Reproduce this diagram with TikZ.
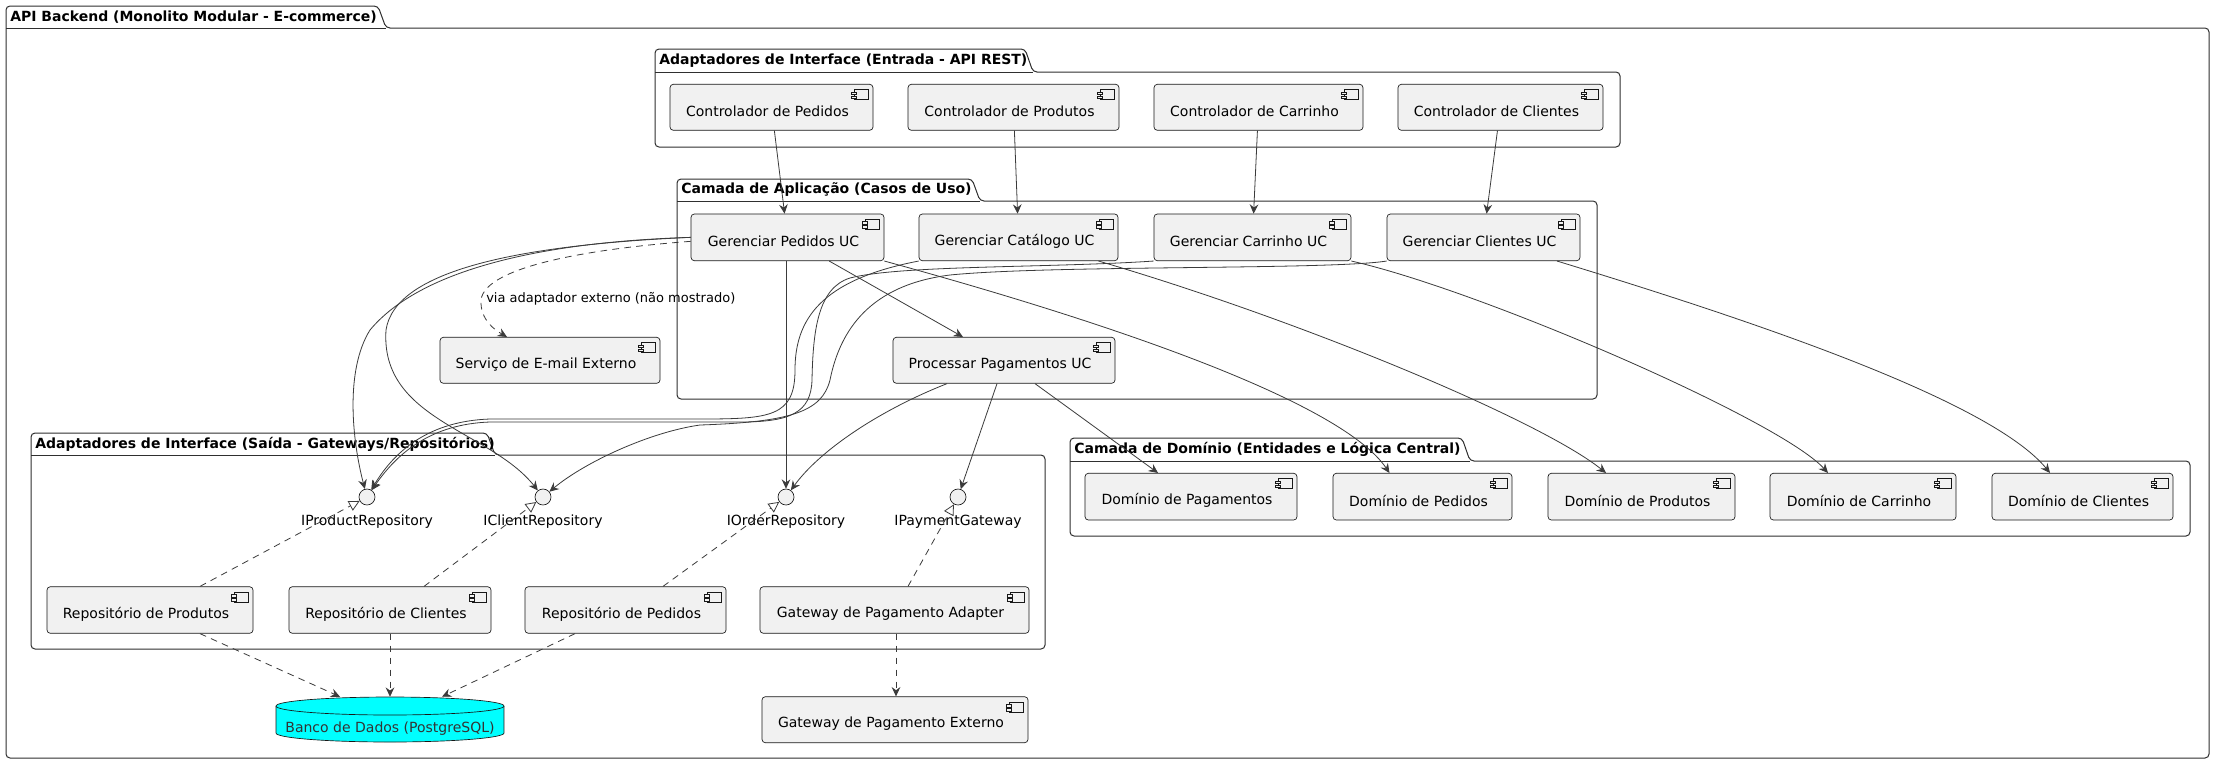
\documentclass[tikz,border=0pt]{standalone}
\usepackage{fontspec}
\setmainfont{DejaVu Sans}
\usetikzlibrary{arrows.meta,calc}

\definecolor{boxfill}{HTML}{F1F1F1}
\definecolor{ink}{HTML}{181818}
\definecolor{dbcyan}{HTML}{00FFFF}

\tikzset{
  compbox/.style={draw=ink, fill=boxfill, line width=0.5pt, rounded corners=2.5pt, inner sep=0pt},
  pkgline/.style={draw=ink!90, line width=0.75pt},
  dep/.style={draw=ink!85, line width=0.6pt, -{Stealth[length=7pt,width=6.5pt,inset=2.4pt]}},
  depdash/.style={dep, dash pattern=on 5pt off 4pt},
  realize/.style={draw=ink!85, line width=0.6pt, dash pattern=on 5pt off 4pt, -{Triangle[open,length=8pt,width=8pt]}},
  iface/.style={circle, draw=ink, fill=boxfill, line width=0.5pt, minimum size=12pt, inner sep=0pt},
  lbl/.style={font=\fontsize{10.5pt}{12.6pt}\selectfont, text=black, inner sep=0pt},
  pkgtitle/.style={font=\fontsize{10.5pt}{12.6pt}\selectfont\bfseries, anchor=west, inner sep=0pt},
  edgelbl/.style={font=\fontsize{9.75pt}{11.7pt}\selectfont, anchor=west, inner sep=0pt},
}

% component: name, x1, y1, x2, y2, text
\newcommand\comp[6]{%
  \node[compbox, minimum width={(#4-#2)*0.75pt}, minimum height={(#5-#3)*0.75pt}] (#1) at ({(#2+#4)/2},{(#3+#5)/2}) {};
  \node[lbl] (#1-t) at ($(#1.center)+(-4,4)$) {#6};
  \draw[ink, line width=0.4pt, fill=boxfill] ($(#1.north east)+(-19.5,5.5)$) rectangle ($(#1.north east)+(-5,15.5)$);
  \draw[ink, line width=0.4pt, fill=boxfill] ($(#1.north east)+(-22,8)$) rectangle ($(#1.north east)+(-17,10.5)$);
  \draw[ink, line width=0.4pt, fill=boxfill] ($(#1.north east)+(-22,12)$) rectangle ($(#1.north east)+(-17,14.5)$);
}

% package: left, tab top, tab right, body top, right, bottom, title, name
\newcommand\pkg[8]{%
  \draw[pkgline, rounded corners=3pt] ({#1},{(#4+#6)/2}) -- (#1,#2) -- ({#3-8},#2) -- (#3,#4) -- (#5,#4) -- (#5,#6) -- (#1,#6) -- cycle;
  \draw[pkgline] (#1,#4) -- (#3,#4);
  \node[pkgtitle] (#8) at ({#1+4},{(#2+#4)/2}) {#7};
}

\begin{document}
\begin{tikzpicture}[x=0.75pt, y=-0.75pt]
\useasboundingbox[fill=white] (0,0) rectangle (2215,764);

% packages
\pkg{6}{6}{386}{28}{2209}{758}{API Backend (Monolito Modular - E-commerce)}{pk-api}
\pkg{655}{49}{1033}{72}{1620}{147}{Adaptadores de Interface (Entrada - API REST)}{pk-in}
\pkg{677}{179}{980}{201}{1597}{399}{Camada de Aplicação (Casos de Uso)}{pk-app}
\pkg{31}{433}{495}{455}{1045}{649}{Adaptadores de Interface (Saída - Gateways/Repositórios)}{pk-out}
\pkg{1070}{438}{1470}{461}{2190}{536}{Camada de Domínio (Entidades e Lógica Central)}{pk-dom}

% input adapters
\comp{cped}{670}{84.3}{873}{130.3}{Controlador de Pedidos}
\comp{cprod}{908}{84.3}{1119}{130.3}{Controlador de Produtos}
\comp{ccar}{1154}{84.3}{1363}{130.3}{Controlador de Carrinho}
\comp{ccli}{1398}{84.3}{1603}{130.3}{Controlador de Clientes}

% use cases
\comp{gped}{691}{214}{884}{260.7}{Gerenciar Pedidos UC}
\comp{gcat}{919}{214}{1118}{260.7}{Gerenciar Catálogo UC}
\comp{gcar}{1154}{214}{1351}{260.7}{Gerenciar Carrinho UC}
\comp{gcli}{1387}{214}{1580}{260.7}{Gerenciar Clientes UC}
\comp{proc}{893}{337.3}{1115}{383.3}{Processar Pagamentos UC}

% external e-mail service
\comp{email}{440}{337.3}{660}{383.3}{Serviço de E-mail Externo}

% output adapters
\comp{rprod}{47}{586.7}{253}{633.3}{Repositório de Produtos}
\comp{rcli}{289}{586.7}{491}{633.3}{Repositório de Clientes}
\comp{rped}{525}{586.7}{726}{633.3}{Repositório de Pedidos}
\comp{gwa}{760}{586.7}{1029}{633.3}{Gateway de Pagamento Adapter}

% interfaces
\node[iface] (ipr) at (367,497) {};
\node[lbl] (ipr-t) at (367,522) {IProductRepository};
\node[iface] (icli) at (543,497) {};
\node[lbl] (icli-t) at (543,522) {IClientRepository};
\node[iface] (ior) at (786,497) {};
\node[lbl] (ior-t) at (786,522) {IOrderRepository};
\node[iface] (ipg) at (958,497) {};
\node[lbl] (ipg-t) at (958,522) {IPaymentGateway};

% domain
\comp{dpag}{1085}{473.3}{1297}{520}{Domínio de Pagamentos}
\comp{dped}{1333}{473.3}{1512}{520}{Domínio de Pedidos}
\comp{dprod}{1548}{473.3}{1735}{520}{Domínio de Produtos}
\comp{dcar}{1770}{473.3}{1956}{520}{Domínio de Carrinho}
\comp{dcli}{1992}{473.3}{2173}{520}{Domínio de Clientes}

% external payment gateway
\comp{gwext}{762}{696.7}{1028}{742.7}{Gateway de Pagamento Externo}

% database cylinder
\fill[dbcyan] (276,706) rectangle (504,733);
\fill[dbcyan] (390,733) ellipse [x radius=114, y radius=9];
\draw[ink, line width=0.5pt] (276,706) -- (276,733) arc[start angle=180, end angle=0, x radius=114, y radius=9] -- (504,706);
\draw[ink, line width=0.5pt, fill=dbcyan] (390,706) ellipse [x radius=114, y radius=9];
\node[inner sep=0pt, minimum width=171pt, minimum height=33.75pt] (db) at (390,719.5) {};
\node[lbl, text=black!80] (db-t) at (390,729) {Banco de Dados (PostgreSQL)};

% controllers to use cases
\draw[dep] (cped) -- (gped);
\draw[dep] (cprod) -- (gcat);
\draw[dep] (ccar) -- (gcar);
\draw[dep] (ccli) -- (gcli);

% Gerenciar Pedidos UC
\draw[dep] (gped) -- (proc);
\draw[dep] (gped.south -| ior) -- (ior);
\draw[dep] (gped.south east) .. controls (1100,320) and (1340,400) .. ($(dped.north)+(-33,0)$);
\draw[dep] (gped.west) .. controls (540,242) and (420,270) .. (370,330) .. controls (345,370) and (352,440) .. (ipr);
\draw[dep] (gped.west) .. controls (520,245) and (395,270) .. (386,330) .. controls (380,420) and (490,430) .. (icli);
\draw[depdash] ($(gped.west)+(0,4)$) .. controls (600,248) and (485,265) .. (481,300) .. controls (480,320) and (495,330) .. ($(email.north)+(-43,0)$);
\node[edgelbl] (email-lbl) at (486,299) {via adaptador externo (não mostrado)};

% Gerenciar Catálogo UC
\draw[dep] (gcat.south west) .. controls (820,280) and (795,320) .. (795,370) .. controls (795,417) and (770,419) .. (700,419) -- (490,419) .. controls (430,421) and (395,450) .. (ipr);
\draw[dep] ($(gcat.south)+(80,0)$) .. controls (1300,320) and (1540,420) .. ($(dprod.north)+(-35.5,0)$);

% Gerenciar Carrinho UC
\draw[dep] (gcar.south west) .. controls (1050,268) and (900,265) .. (850,278) .. controls (818,288) and (813,330) .. (812,380) .. controls (811,413) and (790,422) .. (740,422) -- (490,422) .. controls (432,424) and (398,452) .. (ipr);
\draw[dep] (gcar.south east) .. controls (1480,290) and (1780,420) .. ($(dcar.north)+(-35,0)$);

% Gerenciar Clientes UC
\draw[dep] (gcli.south west) .. controls (1330,270) and (1050,265) .. (950,275) .. controls (870,285) and (840,330) .. (830,380) .. controls (822,412) and (790,422) .. (700,425) .. controls (650,432) and (585,462) .. (icli);
\draw[dep] ($(gcli.south)+(73.5,0)$) .. controls (1750,320) and (1990,400) .. ($(dcli.north)+(-32.5,0)$);

% Processar Pagamentos UC
\draw[dep] ($(proc.south)+(-57,0)$) .. controls (880,410) and (820,450) .. (ior);
\draw[dep] ($(proc.south)+(-7,0)$) -- (ipg);
\draw[dep] ($(proc.south)+(31,0)$) -- ($(dpag.north)+(-33,0)$);

% realizations
\draw[realize] ($(rprod.north)+(50,0)$) -- (ipr);
\draw[realize] ($(rcli.north)+(34,0)$) -- (icli);
\draw[realize] ($(rped.north)+(37.5,0)$) -- (ior);
\draw[realize] ($(gwa.north)+(13.5,0)$) -- (ipg);

% persistence and external gateway
\draw[depdash] ($(rprod.south)+(50,0)$) -- ($(db.north)+(-50,0)$);
\draw[depdash] (rcli.south) -- (db.north);
\draw[depdash] ($(rped.south)+(-50.5,0)$) -- ($(db.north)+(52,0)$);
\draw[depdash] ($(gwa.south)+(1.5,0)$) -- ($(gwext.north)+(1,0)$);
\end{tikzpicture}
\end{document}
